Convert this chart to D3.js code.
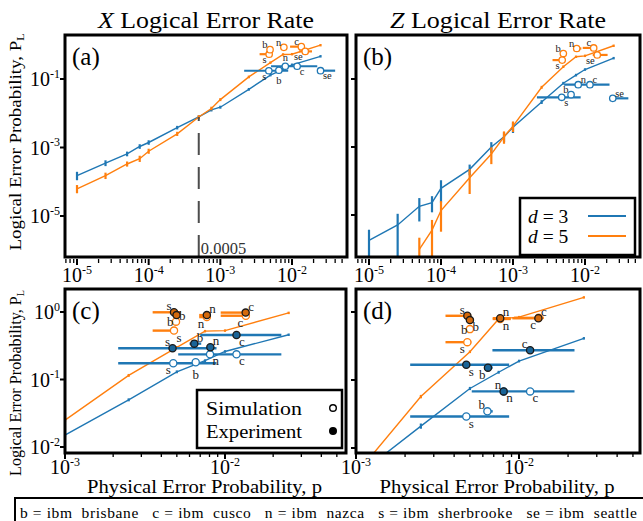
<!DOCTYPE html>
<html lang="en">
<head>
<meta charset="UTF-8">
<title>Logical error rates</title>
<script src="https://d3js.org/d3.v7.min.js"></script>
<style>
  body { margin: 0; background: #fff; }
  svg { font-family: "Liberation Serif", "DejaVu Serif", serif; }
</style>
</head>
<body>
<svg id="chart" width="643" height="521"></svg>
<script>
/* global d3 */

// physical error rates of the simulation sweep
var pSweep = [1e-5, 2.5e-5, 5e-5, 7.5e-5, 1e-4, 2.5e-4, 5e-4, 7.5e-4, 1e-3, 2.5e-3, 5e-3, 7.5e-3, 1e-2, 2.5e-2];

// X logical error rate, d = 3 and d = 5
var xRateD3 = [1.5e-4, 3.5e-4, 6.5e-4, 1.07e-3, 1.4e-3, 3.8e-3, 7.8e-3, 0.0125, 0.015, 0.05, 0.13, 0.19, 0.26, 0.46];
var xErrD3  = [3e-5, 4e-5, 5e-5, 8e-5, 1e-4, 1.5e-4, 2e-4, 3e-4, 3e-4, 5e-4, 1e-3, 1e-3, 1e-3, 1e-3];
var xRateD5 = [6.2e-5, 1.5e-4, 3.3e-4, 4.7e-4, 7.8e-4, 2.5e-3, 7.8e-3, 0.0138, 0.025, 0.115, 0.30, 0.52, 0.53, 0.97];
var xErrD5  = [1.2e-5, 2e-5, 3e-5, 6e-5, 7e-5, 1.5e-4, 3e-4, 5e-4, 5e-4, 1e-3, 1e-3, 1e-3, 1e-3, 1e-3];

// Z logical error rate, d = 3 and d = 5
var zRateD3 = [1.8e-6, 5.1e-6, 1.8e-5, 2.3e-5, 6.1e-5, 2.2e-4, 1.0e-3, 2.0e-3, 3.8e-3, 0.021, 0.075, 0.13, 0.19, 0.41];
var zErrD3  = [1.6e-6, 4.9e-6, 1.1e-5, 1.0e-5, 3.6e-5, 6e-5, 2.8e-4, 5e-4, 1e-3, 1e-3, 1e-3, 1e-3, 1e-3, 1e-3];
var zRateD5 = [null, null, 9.8e-7, 3.6e-6, 1.35e-5, 1.25e-4, 6.2e-4, 2.0e-3, 4.1e-3, 0.057, 0.23, 0.45, 0.48, 0.95];
var zErrD5  = [0, 0, 1e-6, 3e-6, 1e-5, 8e-5, 2.8e-4, 6.5e-4, 1.1e-3, 1e-3, 1e-3, 1e-3, 1e-3, 1e-3];
// d = 5 Z curve as drawn in panel (d)
var zRateD5Zoom = [null, null, null, null, null, null, null, null, 4.1e-3, 0.057, 0.26, 0.79, 0.84, 1.64];

var threshold = 5e-4;

// device points: [device, p, p low, p high, P_L]
var xSimD3 = [["s", 4.75e-3, 2.15e-3, 8.85e-3, 0.174], ["b", 6.56e-3, 6.56e-3, 6.56e-3, 0.18],
  ["n", 8.06e-3, 8.06e-3, 8.06e-3, 0.236], ["c", 0.0118, 5.1e-3, 0.0225, 0.236], ["se", 0.025, 0.025, 0.04, 0.175]];
var xExpD3 = [["s", 4.7e-3, 2.15e-3, 8.85e-3, 0.29], ["b", 6.43e-3, 6.0e-3, 7.1e-3, 0.34],
  ["n", 8.1e-3, 8.1e-3, 8.1e-3, 0.30], ["c", 0.0118, 7.0e-3, 0.0225, 0.456]];
var xSimD5 = [["s", 4.8e-3, 3.53e-3, 5.0e-3, 0.53], ["b", 4.94e-3, 4.94e-3, 4.94e-3, 0.72],
  ["n", 7.7e-3, 6.9e-3, 8.1e-3, 0.84], ["c", 0.0135, 9.4e-3, 0.014, 0.88], ["se", 0.0153, 0.0125, 0.019, 0.64]];
var xExpD5 = [["s", 4.8e-3, 3.53e-3, 5.3e-3, 0.99], ["b", 4.98e-3, 4.98e-3, 4.98e-3, 0.90],
  ["n", 7.7e-3, 6.9e-3, 8.1e-3, 0.90], ["c", 0.01346, 9.4e-3, 0.0136, 0.98]];
var zSimD3 = [["s", 4.75e-3, 2.15e-3, 8.7e-3, 0.029], ["b", 6.4e-3, 6.3e-3, 6.9e-3, 0.0346],
  ["n", 8.05e-3, 8.05e-3, 8.05e-3, 0.068], ["c", 0.0117, 5.13e-3, 0.0219, 0.068], ["se", 0.0243, 0.0243, 0.04, 0.027]];
var zExpD3 = [["s", 4.75e-3, 2.15e-3, 8.7e-3, 0.168], ["b", 6.45e-3, 6.3e-3, 6.9e-3, 0.152],
  ["n", 8.05e-3, 8.05e-3, 8.05e-3, 0.068], ["c", 0.0117, 6.87e-3, 0.0219, 0.274]];
var zSimD5 = [["s", 4.82e-3, 3.54e-3, 5.1e-3, 0.36], ["b", 5.0e-3, 5.0e-3, 5.0e-3, 0.56],
  ["n", 7.67e-3, 6.9e-3, 8.9e-3, 0.79], ["c", 0.0132, 9.3e-3, 0.0142, 0.82], ["se", 0.0148, 0.0128, 0.0206, 0.51]];
var zExpD5 = [["s", 4.82e-3, 3.54e-3, 5.1e-3, 0.88], ["b", 5.0e-3, 5.0e-3, 5.0e-3, 0.76],
  ["n", 7.67e-3, 6.9e-3, 8.9e-3, 0.81], ["c", 0.01315, 9.1e-3, 0.0134, 0.81]];

var deviceNames = ["b = ibm  brisbane", "c = ibm  cusco", "n = ibm  nazca", "s = ibm  sherbrooke", "se = ibm  seattle"];

// where each device letter sits next to its marker
var labelTop = {
  "x-sim-3": {s: "lb", b: "b", n: "a", c: "rb", se: "rb"},
  "x-sim-5": {s: "lb", b: "la", n: "la", c: "la", se: "lb"},
  "z-sim-3": {s: "rb", b: "la", n: "ra", c: "ra", se: "ra"},
  "z-sim-5": {s: "lb", b: "la", n: "la", c: "la", se: "lb"}
};
var labelBottom = {
  "x-sim-3": {s: "lb", b: "b", n: "rb", c: "rb"},
  "x-exp-3": {s: "la", b: "ra", n: "ra", c: "rb"},
  "x-sim-5": {s: "rb", b: "l", n: "lb", c: "lb"},
  "x-exp-5": {s: "la", b: "r", n: "ra", c: "ra"},
  "z-sim-3": {s: "rb", b: "la", n: "rb", c: "rb"},
  "z-exp-3": {s: "rb", b: "lb", n: "la", c: "la"},
  "z-sim-5": {s: "lb", b: "l", n: "rb", c: "lb"},
  "z-exp-5": {s: "la", b: "rb", n: "ra", c: "ra"}
};

var blue = "#1f77b4", orange = "#ff7f0e";

var svg = d3.select("#chart");

var panels = [
  {id: "a", kind: "x", left: 65, right: 347, top: 35, bottom: 257,
    x: d3.scaleLog().domain([1e-5, 1e-2]).range([77, 292]),
    y: d3.scaleLog().domain([1e-5, 1e-1]).range([216, 79]), zoom: false},
  {id: "b", kind: "z", left: 356, right: 640, top: 35, bottom: 257,
    x: d3.scaleLog().domain([1e-5, 1e-2]).range([369, 585]),
    y: d3.scaleLog().domain([1e-5, 1e-1]).range([215, 79]), zoom: false},
  {id: "c", kind: "x", left: 65, right: 346, top: 289, bottom: 453,
    x: d3.scaleLog().domain([1e-3, 1e-2]).range([65, 225]),
    y: d3.scaleLog().domain([1e-2, 1]).range([447, 312]), zoom: true},
  {id: "d", kind: "z", left: 356, right: 640, top: 289, bottom: 453,
    x: d3.scaleLog().domain([1e-3, 1e-2]).range([356, 519]),
    y: d3.scaleLog().domain([1e-2, 1]).range([448, 312]), zoom: true}
];

function pow10(g, e, bigSize, smallSize) {
  g.append("tspan").text("10").attr("font-size", bigSize);
  g.append("tspan").text(e).attr("font-size", smallSize).attr("dy", -bigSize * 0.42);
}

function labelOffset(code, fs) {
  var o = {dx: 0, dy: 0, anchor: "middle"};
  if (code.indexOf("l") >= 0) { o.dx = -2.5; o.anchor = "end"; }
  if (code.indexOf("r") >= 0) { o.dx = 2.5; o.anchor = "start"; }
  var side = code.length === 2;
  if (code.indexOf("a") >= 0) o.dy = side ? -fs * 0.5 : -fs * 0.8;
  if (code.indexOf("b") >= 0) o.dy = side ? fs * 0.5 : fs * 0.95;
  return o;
}

panels.forEach(function (P) {
  var g = svg.append("g");
  var clipId = "clip-" + P.id;
  svg.append("clipPath").attr("id", clipId).append("rect")
    .attr("x", P.left).attr("y", P.top)
    .attr("width", P.right - P.left).attr("height", P.bottom - P.top);
  var inner = g.append("g").attr("clip-path", "url(#" + clipId + ")");

  var isX = P.kind === "x";
  var curves = [
    {color: blue, vals: isX ? xRateD3 : zRateD3, err: isX ? xErrD3 : zErrD3},
    {color: orange, vals: isX ? xRateD5 : (P.zoom ? zRateD5Zoom : zRateD5), err: isX ? xErrD5 : zErrD5}
  ];
  var yMin = P.y.invert(P.bottom + 20);

  curves.forEach(function (cv) {
    var pts = pSweep.map(function (p, i) { return {p: p, v: cv.vals[i], e: cv.err[i]}; })
      .filter(function (d) { return d.v != null; });
    var line = d3.line().x(function (d) { return P.x(d.p); }).y(function (d) { return P.y(d.v); });
    inner.append("path").attr("d", line(pts)).attr("fill", "none")
      .attr("stroke", cv.color).attr("stroke-width", 1.4);
    inner.selectAll(null).data(pts).enter().append("line")
      .attr("x1", function (d) { return P.x(d.p); }).attr("x2", function (d) { return P.x(d.p); })
      .attr("y1", function (d) { return P.y(Math.max(d.v - d.e, yMin)) + 1.2; })
      .attr("y2", function (d) { return P.y(d.v + d.e) - 1.2; })
      .attr("stroke", cv.color).attr("stroke-width", 2.2);
  });

  if (P.id === "a") {
    var cross = xRateD3[pSweep.indexOf(threshold)];
    inner.append("line")
      .attr("x1", P.x(threshold)).attr("x2", P.x(threshold))
      .attr("y1", P.bottom).attr("y2", P.y(cross))
      .attr("stroke", "#4d4d4d").attr("stroke-width", 2).attr("stroke-dasharray", "22,12");
    g.append("text").attr("x", P.x(threshold) + 2).attr("y", 254)
      .attr("font-size", 16.5).attr("fill", "#333").text("0.0005");
  }

  // device markers
  var sets = isX
    ? [["sim", 3, xSimD3, blue], ["sim", 5, xSimD5, orange], ["exp", 3, xExpD3, blue], ["exp", 5, xExpD5, orange]]
    : [["sim", 3, zSimD3, blue], ["sim", 5, zSimD5, orange], ["exp", 3, zExpD3, blue], ["exp", 5, zExpD5, orange]];
  var fs = P.zoom ? 13 : 10.5;
  var r = P.zoom ? 3.6 : 3.2;
  sets.forEach(function (s) {
    if (!P.zoom && s[0] === "exp") return;
    var rows = s[2].filter(function (d) { return P.zoom ? d[0] !== "se" : true; });
    var key = P.kind + "-" + s[0] + "-" + s[1];
    var place = P.zoom ? labelBottom[key] : labelTop[key];
    inner.selectAll(null).data(rows).enter().append("line")
      .attr("x1", function (d) { return P.x(d[2]); }).attr("x2", function (d) { return P.x(d[3]); })
      .attr("y1", function (d) { return P.y(d[4]); }).attr("y2", function (d) { return P.y(d[4]); })
      .attr("stroke", s[3]).attr("stroke-width", P.zoom ? 2.4 : 2.2);
    inner.selectAll(null).data(rows).enter().append("circle")
      .attr("cx", function (d) { return P.x(d[1]); }).attr("cy", function (d) { return P.y(d[4]); })
      .attr("r", r)
      .attr("fill", s[0] === "sim" ? "#fff" : d3.color(s[3]).darker(0.5))
      .attr("stroke", s[0] === "sim" ? s[3] : "#1a1a1a").attr("stroke-width", 1.3);
    rows.forEach(function (d) {
      var o = labelOffset(place[d[0]] || "rb", fs);
      g.append("text").attr("x", P.x(d[1]) + o.dx).attr("y", P.y(d[4]) + o.dy)
        .attr("text-anchor", o.anchor).attr("dominant-baseline", "central")
        .attr("font-size", fs).attr("fill", "#222").text(d[0]);
    });
  });

  // frame
  g.append("rect").attr("x", P.left).attr("y", P.top)
    .attr("width", P.right - P.left).attr("height", P.bottom - P.top)
    .attr("fill", "none").attr("stroke", "#000").attr("stroke-width", 3);

  // y ticks
  var yTicks = P.zoom ? [1, 0.1, 0.01] : [1e-1, 1e-3, 1e-5];
  var yExp = P.zoom ? ["0", "-1", "-2"] : ["-1", "-3", "-5"];
  yTicks.forEach(function (t, i) {
    g.append("line").attr("x1", P.left - 5).attr("x2", P.left)
      .attr("y1", P.y(t)).attr("y2", P.y(t)).attr("stroke", "#000").attr("stroke-width", 2);
    if (P.left < 100) {
      var tx = g.append("text").attr("x", 60).attr("y", P.y(t) + 7).attr("text-anchor", "end");
      pow10(tx, yExp[i], 20, 12);
    }
  });

  // x ticks
  var lo = P.x.invert(P.left), hi = P.x.invert(P.right);
  var minor = [];
  for (var e = -6; e <= -1; e++) {
    for (var m = 1; m < 10; m++) {
      var v = m * Math.pow(10, e);
      if (v >= lo * 0.999 && v <= hi) minor.push({v: v, major: m === 1, e: e});
    }
  }
  var ty = P.zoom ? P.bottom : 259;
  minor.forEach(function (t) {
    g.append("line").attr("x1", P.x(t.v)).attr("x2", P.x(t.v))
      .attr("y1", ty).attr("y2", ty + (t.major ? 6 : 4))
      .attr("stroke", "#000").attr("stroke-width", t.major ? 2 : 1.3);
    if (t.major) {
      var tx = g.append("text").attr("x", P.x(t.v)).attr("y", P.zoom ? 474 : 282)
        .attr("text-anchor", "middle");
      pow10(tx, String(t.e), 20, 12);
    }
  });

  g.append("text").attr("x", P.left + 7).attr("y", P.top + 30)
    .attr("font-size", 25).text("(" + P.id + ")");

  if (P.zoom) {
    g.append("text").attr("x", (P.left + P.right) / 2 - 1).attr("y", 493)
      .attr("text-anchor", "middle").attr("font-size", 19)
      .attr("textLength", 235).attr("lengthAdjust", "spacingAndGlyphs")
      .text("Physical Error Probability, p");
  } else {
    var title = g.append("text").attr("x", (P.left + P.right) / 2).attr("y", 28)
      .attr("text-anchor", "middle").attr("font-size", 22.5)
      .attr("textLength", 216).attr("lengthAdjust", "spacingAndGlyphs");
    title.append("tspan").attr("font-style", "italic").text(isX ? "X" : "Z");
    title.append("tspan").text(" Logical Error Rate");
  }
});

// y axis titles
[[142, 217], [383, 186]].forEach(function (a) {
  var t = svg.append("text").attr("transform", "translate(21," + a[0] + ") rotate(-90)")
    .attr("text-anchor", "middle").attr("font-size", 16)
    .attr("textLength", a[1]).attr("lengthAdjust", "spacingAndGlyphs");
  t.append("tspan").text("Logical Error Probability, P");
  t.append("tspan").attr("font-size", 10).attr("dy", 3).text("L");
});

// d legend in panel (b)
var lg = svg.append("g");
lg.append("rect").attr("x", 520).attr("y", 198).attr("width", 115).attr("height", 57)
  .attr("fill", "#fff").attr("stroke", "#000").attr("stroke-width", 2.5);
[["3", blue, 216], ["5", orange, 236]].forEach(function (it) {
  var t = lg.append("text").attr("x", 528).attr("y", it[2] + 7).attr("font-size", 19.5);
  t.append("tspan").attr("font-style", "italic").text("d");
  t.append("tspan").text(" = " + it[0]);
  lg.append("line").attr("x1", 588).attr("x2", 626).attr("y1", it[2]).attr("y2", it[2])
    .attr("stroke", it[1]).attr("stroke-width", 2);
});

// marker legend in panel (c)
var mg = svg.append("g");
mg.append("rect").attr("x", 197).attr("y", 390).attr("width", 145).attr("height", 58)
  .attr("fill", "#fff").attr("stroke", "#000").attr("stroke-width", 2.5);
[["Simulation", 408, "#fff"], ["Experiment", 431, "#000"]].forEach(function (it) {
  mg.append("text").attr("x", 206).attr("y", it[1] + 7).attr("font-size", 19.5)
    .attr("textLength", 96).attr("lengthAdjust", "spacingAndGlyphs").text(it[0]);
  mg.append("circle").attr("cx", 333).attr("cy", it[1]).attr("r", 3.3)
    .attr("fill", it[2]).attr("stroke", "#000").attr("stroke-width", 1.4);
});

// device key at the bottom
svg.append("rect").attr("x", 15).attr("y", 498).attr("width", 640).attr("height", 40)
  .attr("fill", "#fff").attr("stroke", "#000").attr("stroke-width", 2);
svg.append("text").attr("x", 20).attr("y", 518).attr("font-size", 15.5)
  .style("white-space", "pre")
  .attr("textLength", 617).attr("lengthAdjust", "spacing")
  .text(deviceNames.join("   "));
</script>
</body>
</html>
